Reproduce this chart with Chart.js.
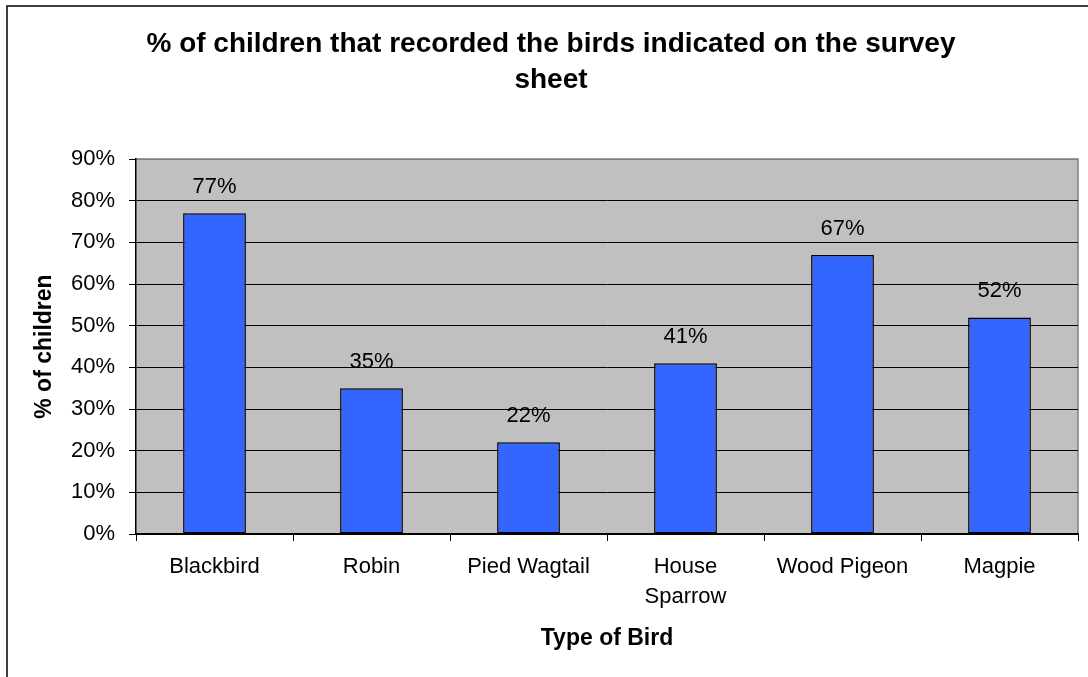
<!DOCTYPE html>
<html>
<head>
<meta charset="utf-8">
<title>Birds recorded</title>
<script src="https://cdn.jsdelivr.net/npm/chart.js@4"></script>
<style>
  html, body { margin: 0; padding: 0; background: #fff; }
  canvas { display: block; }
</style>
</head>
<body>
<canvas id="birds" width="1088" height="677"></canvas>
<script>
// Survey results: share of children who recorded each bird
const birds = ["Blackbird", "Robin", "Pied Wagtail", ["House", "Sparrow"], "Wood Pigeon", "Magpie"];
const percentChildren = [77, 35, 22, 41, 67, 52];
const titleLines = ["% of children that recorded the birds indicated on the survey", "sheet"];

const FONT = "'Liberation Sans', Arial, sans-serif";
Chart.defaults.font.family = FONT;
Chart.defaults.color = "#000";

// grey plot background with a grey top/right edge
const plotBackground = {
    id: "plotBackground",
    beforeDraw(chart) {
        const { ctx, chartArea: a } = chart;
        ctx.save();
        ctx.fillStyle = "#C0C0C0";
        ctx.fillRect(a.left, a.top, a.right - a.left, a.bottom - a.top);
        ctx.strokeStyle = "#808080";
        ctx.lineWidth = 1.5;
        ctx.beginPath();
        ctx.moveTo(a.left, a.top);
        ctx.lineTo(a.right, a.top);
        ctx.lineTo(a.right, a.bottom);
        ctx.stroke();
        ctx.restore();
    }
};

// value labels above each bar
const valueLabels = {
    id: "valueLabels",
    afterDatasetsDraw(chart) {
        const { ctx } = chart;
        const meta = chart.getDatasetMeta(0);
        ctx.save();
        ctx.font = "22px " + FONT;
        ctx.fillStyle = "#000";
        ctx.textAlign = "center";
        ctx.textBaseline = "middle";
        meta.data.forEach((bar, i) => {
            ctx.fillText(percentChildren[i] + "%", bar.x, bar.y - 26);
        });
        ctx.restore();
    }
};

// thin frame along the top and left of the page
const outerFrame = {
    id: "outerFrame",
    afterDraw(chart) {
        const { ctx, width, height } = chart;
        ctx.save();
        ctx.strokeStyle = "#000";
        ctx.lineWidth = 1.5;
        ctx.beginPath();
        ctx.moveTo(7, height);
        ctx.lineTo(7, 6);
        ctx.lineTo(width, 6);
        ctx.stroke();
        ctx.restore();
    }
};

new Chart(document.getElementById("birds"), {
    type: "bar",
    data: {
        labels: birds,
        datasets: [{
            data: percentChildren,
            backgroundColor: "#3366FF",
            borderColor: "#000",
            borderWidth: 1.5,
            borderSkipped: false,
            barPercentage: 0.4,
            categoryPercentage: 1
        }]
    },
    options: {
        responsive: false,
        animation: false,
        layout: { padding: { left: 24, right: 10, top: 0, bottom: 0 } },
        plugins: {
            legend: { display: false },
            tooltip: { enabled: false },
            title: {
                display: true,
                text: titleLines,
                color: "#000",
                font: { size: 28, weight: "bold", lineHeight: 1.27 },
                padding: { top: 27, bottom: 61 }
            }
        },
        scales: {
            y: {
                min: 0,
                max: 90,
                afterFit(scale) { scale.width = 112; },
                ticks: {
                    stepSize: 10,
                    padding: 14,
                    font: { size: 22 },
                    callback: v => v + "%"
                },
                grid: {
                    color: c => (c.tick && c.tick.value === 90) ? "#808080" : "#000",
                    tickColor: "#000",
                    tickLength: 7,
                    lineWidth: 1
                },
                border: { color: "#000", width: 1.5 },
                title: {
                    display: true,
                    text: "% of children",
                    font: { size: 23, weight: "bold" },
                    padding: { top: 7, bottom: 0 }
                }
            },
            x: {
                afterFit(scale) { scale.height = 143; },
                ticks: {
                    padding: 11,
                    maxRotation: 0,
                    font: { size: 22, lineHeight: 1.36 }
                },
                grid: {
                    drawOnChartArea: false,
                    drawTicks: true,
                    tickLength: 7,
                    color: "#000"
                },
                border: { color: "#000", width: 1.5 },
                title: {
                    display: true,
                    text: "Type of Bird",
                    font: { size: 23, weight: "bold" },
                    padding: { top: 0, bottom: 25 }
                }
            }
        }
    },
    plugins: [plotBackground, valueLabels, outerFrame]
});
</script>
</body>
</html>
